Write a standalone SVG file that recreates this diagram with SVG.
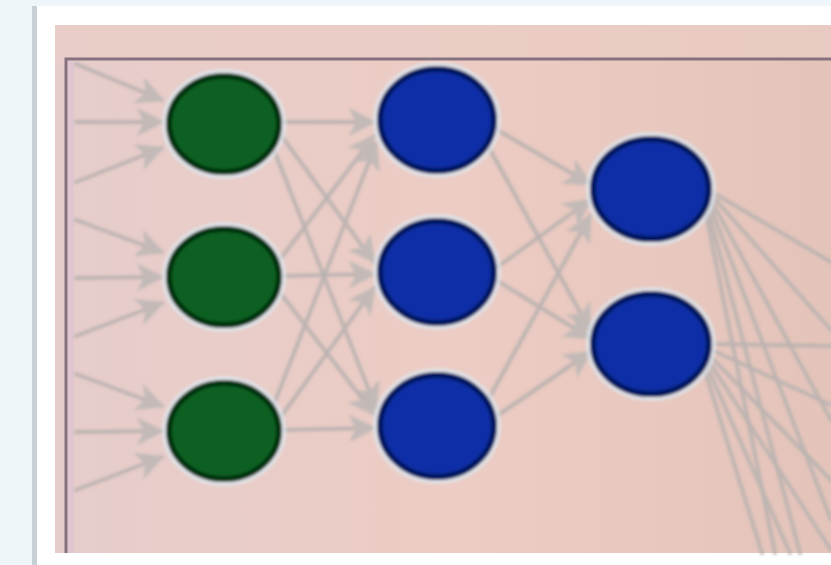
<svg xmlns="http://www.w3.org/2000/svg" width="831" height="565" viewBox="0 0 831 565">
  <defs>
    <style>
      .edge { stroke: #bab2b0; stroke-width: 4; fill: none; stroke-linecap: round; opacity: 0.9; }
      .in   { fill: #0b6124; stroke: #04300d; stroke-width: 6; }
      .hid  { fill: #0c2fa6; stroke: #06185e; stroke-width: 6; }
      .halo { fill: none; stroke: #dfe9f2; stroke-width: 6; opacity: 0.75; }
    </style>
    <marker id="arrow" viewBox="0 0 10 10" refX="9" refY="5" markerWidth="7" markerHeight="7" orient="auto" markerUnits="strokeWidth">
      <path d="M0,0 L10,5 L0,10 L2.5,5 Z" fill="#bfb8b6"/>
    </marker>
    <linearGradient id="panel" x1="0" y1="0" x2="1" y2="0">
      <stop offset="0" stop-color="#e6cdcb"/>
      <stop offset="0.5" stop-color="#ecccc4"/>
      <stop offset="1" stop-color="#e4c4ba"/>
    </linearGradient>
    <filter id="soft" x="-5%" y="-5%" width="110%" height="110%">
      <feGaussianBlur stdDeviation="1.5"/>
    </filter>
  </defs>

  <!-- page background and card -->
  <rect x="0" y="0" width="831" height="565" fill="#eef6f9"/>
  <rect x="32" y="6" width="5" height="559" fill="#c6d0d5"/>
  <rect x="37" y="6" width="794" height="559" fill="#ffffff"/>
  <rect x="55" y="25" width="776" height="528" fill="url(#panel)"/>
  <rect x="55" y="25" width="776" height="33" fill="#e9cdc6" opacity="0.7"/>
  <path d="M66,553 L66,59 L831,59" fill="none" stroke="#86727f" stroke-width="3"/>
  <rect x="68" y="61" width="6" height="492" fill="#dcc3d2" opacity="0.7"/>

  <g filter="url(#soft)">
    <!-- connectors -->
    <g id="connectors">
      <!-- inputs into first layer -->
      <line class="edge" x1="76" y1="64" x2="162" y2="100" marker-end="url(#arrow)"/>
      <line class="edge" x1="76" y1="122" x2="162" y2="122" marker-end="url(#arrow)"/>
      <line class="edge" x1="76" y1="182" x2="162" y2="148" marker-end="url(#arrow)"/>
      <line class="edge" x1="76" y1="220" x2="162" y2="252" marker-end="url(#arrow)"/>
      <line class="edge" x1="76" y1="278" x2="162" y2="277" marker-end="url(#arrow)"/>
      <line class="edge" x1="76" y1="336" x2="162" y2="303" marker-end="url(#arrow)"/>
      <line class="edge" x1="76" y1="374" x2="162" y2="406" marker-end="url(#arrow)"/>
      <line class="edge" x1="76" y1="432" x2="162" y2="431" marker-end="url(#arrow)"/>
      <line class="edge" x1="76" y1="490" x2="162" y2="457" marker-end="url(#arrow)"/>

      <!-- first layer to second layer -->
      <line class="edge" x1="282" y1="122" x2="374" y2="122" marker-end="url(#arrow)"/>
      <line class="edge" x1="280" y1="134" x2="374" y2="262" marker-end="url(#arrow)"/>
      <line class="edge" x1="274" y1="150" x2="376" y2="408" marker-end="url(#arrow)"/>
      <line class="edge" x1="278" y1="262" x2="374" y2="136" marker-end="url(#arrow)"/>
      <line class="edge" x1="282" y1="276" x2="374" y2="274" marker-end="url(#arrow)"/>
      <line class="edge" x1="278" y1="290" x2="374" y2="414" marker-end="url(#arrow)"/>
      <line class="edge" x1="274" y1="404" x2="376" y2="144" marker-end="url(#arrow)"/>
      <line class="edge" x1="280" y1="418" x2="374" y2="288" marker-end="url(#arrow)"/>
      <line class="edge" x1="282" y1="430" x2="374" y2="428" marker-end="url(#arrow)"/>

      <!-- second layer to third layer -->
      <line class="edge" x1="494" y1="128" x2="590" y2="184" marker-end="url(#arrow)"/>
      <line class="edge" x1="488" y1="146" x2="590" y2="330" marker-end="url(#arrow)"/>
      <line class="edge" x1="496" y1="268" x2="590" y2="200" marker-end="url(#arrow)"/>
      <line class="edge" x1="496" y1="280" x2="590" y2="338" marker-end="url(#arrow)"/>
      <line class="edge" x1="488" y1="400" x2="590" y2="216" marker-end="url(#arrow)"/>
      <line class="edge" x1="494" y1="418" x2="590" y2="352" marker-end="url(#arrow)"/>

      <!-- third layer outward -->
      <line class="edge" x1="712" y1="192" x2="831" y2="262"/>
      <line class="edge" x1="714" y1="198" x2="831" y2="330"/>
      <line class="edge" x1="712" y1="202" x2="831" y2="420"/>
      <line class="edge" x1="710" y1="206" x2="831" y2="520"/>
      <line class="edge" x1="708" y1="210" x2="800" y2="553"/>
      <line class="edge" x1="706" y1="214" x2="775" y2="553"/>
      <line class="edge" x1="712" y1="344" x2="831" y2="346"/>
      <line class="edge" x1="712" y1="350" x2="831" y2="405"/>
      <line class="edge" x1="710" y1="356" x2="831" y2="480"/>
      <line class="edge" x1="708" y1="360" x2="831" y2="550"/>
      <line class="edge" x1="706" y1="364" x2="790" y2="553"/>
      <line class="edge" x1="704" y1="368" x2="762" y2="553"/>
    </g>

    <!-- first layer -->
    <g id="n1-1"><ellipse class="halo" cx="224" cy="124" rx="59" ry="52"/><ellipse class="in" cx="224" cy="124" rx="55" ry="48"/></g>
    <g id="n1-2"><ellipse class="halo" cx="224" cy="277" rx="59" ry="52"/><ellipse class="in" cx="224" cy="277" rx="55" ry="48"/></g>
    <g id="n1-3"><ellipse class="halo" cx="224" cy="431" rx="59" ry="52"/><ellipse class="in" cx="224" cy="431" rx="55" ry="48"/></g>

    <!-- second layer -->
    <g id="n2-1"><ellipse class="halo" cx="437" cy="120" rx="61" ry="55"/><ellipse class="hid" cx="437" cy="120" rx="57" ry="51"/></g>
    <g id="n2-2"><ellipse class="halo" cx="437" cy="272" rx="61" ry="55"/><ellipse class="hid" cx="437" cy="272" rx="57" ry="51"/></g>
    <g id="n2-3"><ellipse class="halo" cx="437" cy="426" rx="61" ry="55"/><ellipse class="hid" cx="437" cy="426" rx="57" ry="51"/></g>

    <!-- third layer -->
    <g id="n3-1"><ellipse class="halo" cx="651" cy="189" rx="62" ry="54"/><ellipse class="hid" cx="651" cy="189" rx="58" ry="50"/></g>
    <g id="n3-2"><ellipse class="halo" cx="651" cy="344" rx="62" ry="54"/><ellipse class="hid" cx="651" cy="344" rx="58" ry="50"/></g>
  </g>
</svg>
